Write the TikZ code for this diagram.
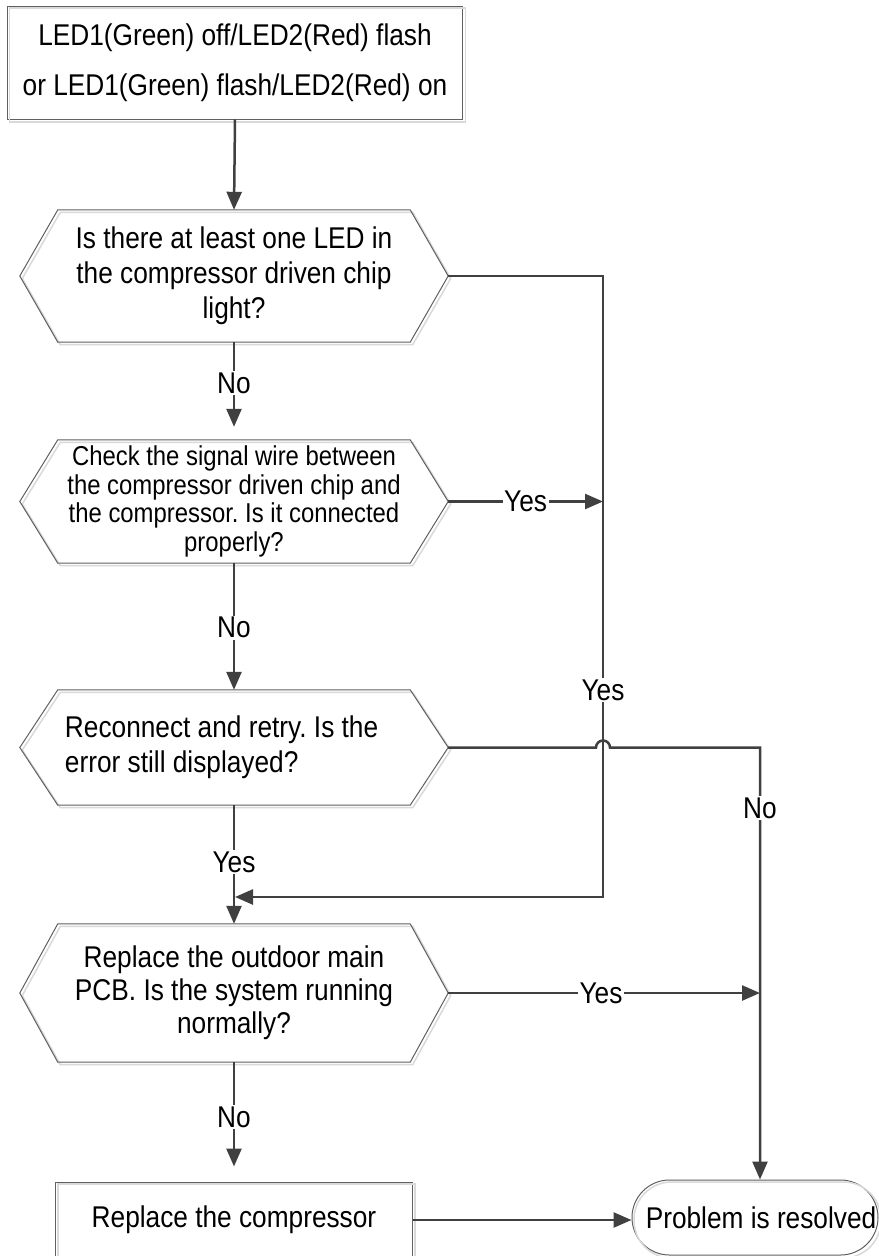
\documentclass[tikz,border=0pt]{standalone}
\usepackage{fontspec}
\setmainfont{Liberation Sans}[FakeStretch=0.875]
\usetikzlibrary{arrows.meta}
\frenchspacing
\definecolor{lineclr}{HTML}{404040}
\definecolor{edgeclr}{HTML}{606060}
\definecolor{shadowclr}{HTML}{D9D9D9}
% hexagon outline through the anchors of a node: node, inset, offset
\newcommand\hexpts[3]{([xshift=#3,yshift=-#3]#1.west) -- ([xshift=#2+#3,yshift=-#3]#1.north west) -- ([xshift=-#2+#3,yshift=-#3]#1.north east) -- ([xshift=#3,yshift=-#3]#1.east) -- ([xshift=-#2+#3,yshift=-#3]#1.south east) -- ([xshift=#2+#3,yshift=-#3]#1.south west) -- cycle}
\newcommand\hexdraw[1]{\draw[shadowln] \hexpts{#1}{38bp}{2.5bp}; \draw[edgeln] \hexpts{#1}{38bp}{0bp};}
\newcommand\boxshadow[1]{\draw[shadowln] ([xshift=2.5bp,yshift=-2.5bp]#1.north west) rectangle ([xshift=2.5bp,yshift=-2.5bp]#1.south east);}
\begin{document}
\begin{tikzpicture}[x=1bp,y=-1bp,
  edgeln/.style={draw=edgeclr,line width=1bp},
  shadowln/.style={draw=shadowclr,line width=1.5bp},
  conn/.style={draw=lineclr,line width=2.5bp},
  arr/.style={conn,-{Triangle[length=18bp,width=15bp]}},
  bigtxt/.style={font=\fontsize{30bp}{35bp}\selectfont},
  hexnode/.style={bigtxt,minimum width=428bp,inner sep=0pt,align=center},
  lbl/.style={bigtxt,fill=white,inner sep=1.5bp},
  boxnode/.style={bigtxt,edgeln,inner sep=0pt,align=center}]
\fill[white] (0,0) rectangle (879,1256);
\useasboundingbox (0,0) rectangle (879,1256);
% nodes
\node[boxnode,minimum width=455bp,minimum height=113bp,font=\fontsize{30bp}{50bp}\selectfont] (top) at (235,62.5)
  {LED1(Green) off/LED2(Red) flash\\or LED1(Green) flash/LED2(Red) on};
\node[hexnode,minimum height=132bp] (h1) at (234,276)
  {Is there at least one LED in\\the compressor driven chip\\light?};
\node[hexnode,minimum height=123bp,font=\fontsize{27.3bp}{28.5bp}\selectfont] (h2) at (234,501.5)
  {Check the signal wire between\\the compressor driven chip and\\the compressor. Is it connected\\properly?};
\node[hexnode,minimum height=115bp,inner xsep=45bp,text width=338bp,align=flush left] (h3) at (234,747.5)
  {Reconnect and retry. Is the\\error still displayed?};
\node[hexnode,minimum height=138bp,font=\fontsize{30bp}{33bp}\selectfont] (h4) at (234,993)
  {Replace the outdoor main\\PCB. Is the system running\\normally?};
\node[boxnode,minimum width=356bp,minimum height=76bp] (rep) at (234,1220) {Replace the compressor};
\node[boxnode,minimum width=246bp,minimum height=75bp,rounded corners=37.5bp,inner xsep=0pt,text depth=0pt] (term) at (755,1217.5) {\hspace*{12bp}Problem is resolved};
% shape outlines and shadows
\hexdraw{h1}
\hexdraw{h2}
\hexdraw{h3}
\hexdraw{h4}
\boxshadow{top}
\boxshadow{rep}
\draw[shadowln,rounded corners=37.5bp] ([xshift=2.5bp,yshift=-2.5bp]term.north west) rectangle ([xshift=2.5bp,yshift=-2.5bp]term.south east);
% helper coordinates
\coordinate (r1) at (603,276);
\coordinate (r2) at (603,897);
\coordinate (m1) at (235,897);
\coordinate (rj) at (603,747.5);
\coordinate (q1) at (760,747.5);
% connectors
\draw[arr] (top.south) -- (h1.north);
\draw[arr,shorten >=13bp] (h1.south) -- node[lbl,pos=0.42] {No} (h2.north);
\draw[arr] (h1.east) -- (r1) -- node[lbl,pos=0.667] {Yes} (r2) -- (m1);
\draw[arr] (h2.east) -- node[lbl,pos=0.5] {Yes} (h2.east -| r1);
\draw[arr] (h2.south) -- node[lbl,pos=0.51] {No} (h3.north);
\draw[arr] (h3.east) -- ([xshift=-7bp]rj) arc[start angle=180,end angle=0,radius=7bp] -- (q1) -- node[lbl,pos=0.14] {No} (term.north -| q1);
\draw[arr] (h3.south) -- node[lbl,pos=0.48] {Yes} (h4.north);
\draw[arr] (h4.east) -- node[lbl,pos=0.49] {Yes} (h4.east -| q1);
\draw[arr,shorten >=15bp] (h4.south) -- node[lbl,pos=0.46] {No} (rep.north);
\draw[arr] (rep.east) -- (rep.east -| term.west);
\end{tikzpicture}
\end{document}
